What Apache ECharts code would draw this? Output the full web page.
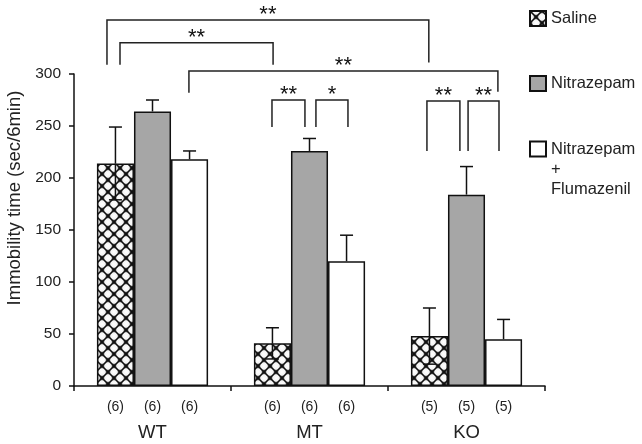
<!DOCTYPE html>
<html><head><meta charset="utf-8">
<script src="https://cdn.jsdelivr.net/npm/echarts@6/dist/echarts.min.js"></script>
<style>html,body{margin:0;padding:0;background:#fff}#c{width:642px;height:444px}</style>
</head><body><div id="c"></div>
<script>
// ---------- data ----------
const categories = ['WT', 'MT', 'KO'];
const seriesNames = ['Saline', 'Nitrazepam', 'Nitrazepam + Flumazenil'];
const salineMean = [214, 41, 48];
const salineSE   = [35, 15, 27];
const nitraMean  = [264, 226, 184];
const nitraSE    = [11, 12, 27];
const flumaMean  = [218, 120, 45];
const flumaSE    = [8, 25, 19];
const salineN = [6, 6, 5];
const nitraN  = [6, 6, 5];
const flumaN  = [6, 6, 5];
const yMin = 0, yMax = 300, yInterval = 50;
// significance brackets: x in category units, y in data units
const brackets = [
  { x1: -0.29, x2: 1.76, top: 352, leg1: 309, leg2: 311, label: '**' },
  { x1: -0.207, x2: 0.768, top: 330, leg1: 309, leg2: 309, label: '**' },
  { x1: 0.232, x2: 2.2, top: 303, leg1: 282, leg2: 283, label: '**' },
  { x1: 0.761, x2: 0.971, top: 275, leg1: 249, leg2: 249, label: '**' },
  { x1: 1.041, x2: 1.245, top: 275, leg1: 249, leg2: 249, label: '*' },
  { x1: 1.748, x2: 1.958, top: 274, leg1: 226, leg2: 226, label: '**' },
  { x1: 2.01, x2: 2.207, top: 274, leg1: 226, leg2: 226, label: '**' }
];

// ---------- style ----------
const FONT = 'Liberation Sans, Arial, sans-serif';
const BAR_FRAC = 0.236;
function makePattern() {
  const s = 12;
  const cv = document.createElement('canvas');
  cv.width = s; cv.height = s;
  const g = cv.getContext('2d');
  g.fillStyle = '#111111';
  g.fillRect(0, 0, s, s);
  [[s/2,0],[0,s/2],[s,s/2],[s/2,s]].forEach(([cx, cy]) => {
    const r = 5.0;
    const rg = g.createRadialGradient(cx, cy, 0, cx, cy, r);
    rg.addColorStop(0, '#ffffff');
    rg.addColorStop(0.6, '#f4f4f4');
    rg.addColorStop(0.85, '#909090');
    rg.addColorStop(1, 'rgba(30,30,30,0)');
    g.fillStyle = rg;
    g.beginPath();
    g.moveTo(cx, cy - r); g.lineTo(cx + r, cy); g.lineTo(cx, cy + r); g.lineTo(cx - r, cy); g.closePath();
    g.fill();
  });
  return cv;
}
const hatch = { image: makePattern(), repeat: 'repeat' };

const chart = echarts.init(document.getElementById('c'), null, { renderer: 'canvas' });

function errSeries(name, mean, se, idxOffset, both) {
  return {
    type: 'custom', name: name + ' err', z: 5,
    data: mean.map((m, i) => [i, m, se[i]]),
    encode: { x: 0, y: 1 },
    renderItem: function (params, api) {
      const i = api.value(0), m = api.value(1), e = api.value(2);
      const w = api.size([1, 0])[0];
      const dx = idxOffset * w * BAR_FRAC;
      const p = api.coord([i, m]);
      const t = api.coord([i, m + e]);
      const b = api.coord([i, m - e]);
      const x = p[0] + dx;
      const st = { stroke: '#111', lineWidth: 1.5 };
      const ch = [
        { type: 'line', shape: { x1: x, y1: p[1], x2: x, y2: t[1] }, style: st },
        { type: 'line', shape: { x1: x - 6.5, y1: t[1], x2: x + 6.5, y2: t[1] }, style: st }
      ];
      if (both) {
        ch.push({ type: 'line', shape: { x1: x, y1: p[1], x2: x, y2: b[1] }, style: st });
        ch.push({ type: 'line', shape: { x1: x - 6.5, y1: b[1], x2: x + 6.5, y2: b[1] }, style: st });
      }
      return { type: 'group', children: ch };
    }
  };
}

function barSeries(name, mean, nArr, color) {
  return {
    type: 'bar', name: name, data: mean,
    barWidth: (BAR_FRAC * 100) + '%', barGap: '0%',
    itemStyle: { color: color, borderColor: '#111', borderWidth: 1.5 },
    label: {
      show: true, position: 'bottom', distance: 14,
      fontFamily: FONT, fontSize: 14, color: '#222',
      formatter: p => '(' + nArr[p.dataIndex] + ')'
    },
    emphasis: { disabled: true }
  };
}

const legendBase = {
  orient: 'vertical', left: 529, padding: 0, itemWidth: 16, itemHeight: 15, itemGap: 10,
  icon: 'rect',
  textStyle: { fontFamily: FONT, fontSize: 16.5, color: '#222', lineHeight: 15 },
  selectedMode: false
};

chart.setOption({
  animation: false,
  backgroundColor: '#fff',
  grid: { left: 74, right: 97, top: 74, bottom: 58, containLabel: false, outerBoundsMode: 'none' },
  legend: [
    Object.assign({}, legendBase, { top: 10, data: [seriesNames[0]] }),
    Object.assign({}, legendBase, { top: 75, data: [seriesNames[1]] }),
    Object.assign({}, legendBase, {
      top: 99, data: [seriesNames[2]],
      textStyle: { fontFamily: FONT, fontSize: 16.5, color: '#222', lineHeight: 20 },
      formatter: () => ' \n \nNitrazepam\n+\nFlumazenil'
    })
  ],
  xAxis: {
    type: 'category', data: categories,
    axisLine: { lineStyle: { color: '#111', width: 1.5 } },
    axisTick: { show: true, length: 5, lineStyle: { color: '#111', width: 1.5 } },
    axisLabel: { margin: 37, fontFamily: FONT, fontSize: 18.5, color: '#222' }
  },
  yAxis: {
    type: 'value', min: yMin, max: yMax, interval: yInterval,
    name: 'Immobility time (sec/6min)', nameLocation: 'middle', nameGap: 50,
    nameTextStyle: { fontFamily: FONT, fontSize: 18.5, color: '#222', padding: [0, 0, 0, 64] },
    axisLine: { show: true, lineStyle: { color: '#111', width: 1.5 } },
    axisTick: { show: true, length: 5, lineStyle: { color: '#111', width: 1.5 } },
    axisLabel: { margin: 13, fontFamily: FONT, fontSize: 15.5, color: '#222' },
    splitLine: { show: false }
  },
  series: [
    barSeries(seriesNames[0], salineMean, salineN, hatch),
    barSeries(seriesNames[1], nitraMean, nitraN, '#a6a6a6'),
    barSeries(seriesNames[2], flumaMean, flumaN, '#ffffff'),
    errSeries(seriesNames[0], salineMean, salineSE, -1, true),
    errSeries(seriesNames[1], nitraMean, nitraSE, 0, false),
    errSeries(seriesNames[2], flumaMean, flumaSE, 1, false)
  ]
});

// brackets as graphic annotations converted from data units
const c0 = chart.convertToPixel({ xAxisIndex: 0 }, 0);
const c1 = chart.convertToPixel({ xAxisIndex: 0 }, 1);
const cw = c1 - c0;
const px = v => c0 + v * cw;
const py = v => chart.convertToPixel({ yAxisIndex: 0 }, v);
const gr = [];
const ls = { stroke: '#222', lineWidth: 1.5, fill: null };
brackets.forEach(b => {
  const x1 = px(b.x1), x2 = px(b.x2), yt = py(b.top);
  gr.push({ type: 'polyline', shape: { points: [[x1, py(b.leg1)], [x1, yt], [x2, yt], [x2, py(b.leg2)]] }, style: ls, silent: true });
  gr.push({ type: 'text', x: (x1 + x2) / 2, y: yt + 6, style: { text: b.label, fontFamily: FONT, fontSize: 22, fill: '#111', align: 'center', verticalAlign: 'bottom' }, silent: true });
});
chart.setOption({ graphic: gr });
</script></body></html>
